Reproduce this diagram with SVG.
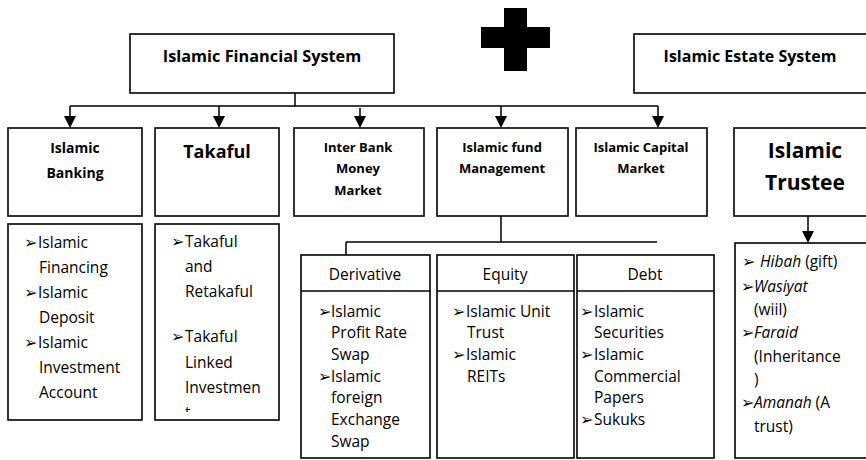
<svg xmlns="http://www.w3.org/2000/svg" width="866" height="460" viewBox="0 0 866 460">
<style>
.box{fill:#fff;stroke:#000;stroke-width:1.6}
.ln{fill:none;stroke:#000;stroke-width:1.5}
.t{font-family:"Open Sans","Liberation Sans",sans-serif;font-size:15.5px;fill:#000}
.h{font-family:"Open Sans","Liberation Sans",sans-serif;font-weight:bold;fill:#000;text-anchor:middle}
.c{text-anchor:middle}
.b{font-family:"DejaVu Sans",sans-serif;font-size:16px}
</style>
<defs>
<path id="ah" d="M-6,-12 L6,-12 L0,0 Z" fill="#000"/>
<clipPath id="tkclip"><rect x="155" y="224" width="124" height="188"/></clipPath>
</defs>

<g id="connectors">
<path class="ln" d="M295,93 V106 M70,106 H658 M501,216 V242 M346,242 H657 M346,242 V255"/>
<path class="ln" d="M70,106 V118 M219,106 V118 M360,108 V118 M501,106 V118 M658,106 V118 M808,216 V233"/>
<use href="#ah" x="70" y="128"/>
<use href="#ah" x="219" y="128"/>
<use href="#ah" x="360" y="128"/>
<use href="#ah" x="501" y="128"/>
<use href="#ah" x="658" y="128"/>
<use href="#ah" x="808" y="243"/>
</g>

<g id="plus">
<rect x="504" y="8" width="23" height="63" fill="#000"/>
<rect x="481" y="27" width="69" height="21" fill="#000"/>
</g>

<g id="financial-system">
<rect class="box" x="130" y="34" width="264" height="59"/>
<text class="h" x="262" y="62" font-size="16.3">Islamic Financial System</text>
</g>

<g id="estate-system">
<rect class="box" x="634" y="34" width="240" height="59"/>
<text class="h" x="750" y="62" font-size="16">Islamic Estate System</text>
</g>

<g id="islamic-banking">
<rect class="box" x="8" y="128" width="134" height="88"/>
<text class="h" x="75" y="153" font-size="14">Islamic</text>
<text class="h" x="75" y="178" font-size="14">Banking</text>
</g>

<g id="takaful">
<rect class="box" x="155" y="128" width="124" height="88"/>
<text class="h" x="217" y="158" font-size="18">Takaful</text>
</g>

<g id="inter-bank">
<rect class="box" x="294" y="128" width="130" height="88"/>
<text class="h" x="358" y="152" font-size="13">Inter Bank</text>
<text class="h" x="358" y="173" font-size="13">Money</text>
<text class="h" x="358" y="195" font-size="13">Market</text>
</g>

<g id="fund-management">
<rect class="box" x="437" y="128" width="131" height="88"/>
<text class="h" x="502" y="152" font-size="13">Islamic fund</text>
<text class="h" x="502" y="173" font-size="13">Management</text>
</g>

<g id="capital-market">
<rect class="box" x="576" y="128" width="131" height="88"/>
<text class="h" x="641" y="152" font-size="13">Islamic Capital</text>
<text class="h" x="641" y="173" font-size="13">Market</text>
</g>

<g id="islamic-trustee">
<rect class="box" x="734" y="128" width="140" height="88"/>
<text class="h" x="805" y="158" font-size="21">Islamic</text>
<text class="h" x="805" y="190" font-size="21">Trustee</text>
</g>

<g id="banking-list">
<rect class="box" x="8" y="224" width="134" height="196"/>
<text class="t b" x="24" y="248">➢</text><text class="t" x="38" y="248">Islamic</text>
<text class="t" x="39" y="273">Financing</text>
<text class="t b" x="24" y="298">➢</text><text class="t" x="38" y="298">Islamic</text>
<text class="t" x="39" y="323">Deposit</text>
<text class="t b" x="24" y="348">➢</text><text class="t" x="38" y="348">Islamic</text>
<text class="t" x="39" y="373">Investment</text>
<text class="t" x="39" y="398">Account</text>
</g>

<g id="takaful-list">
<rect class="box" x="155" y="224" width="124" height="196"/>
<text class="t b" x="171" y="247">➢</text><text class="t" x="185" y="247">Takaful</text>
<text class="t" x="185" y="272">and</text>
<text class="t" x="185" y="297">Retakaful</text>
<text class="t b" x="171" y="342">➢</text><text class="t" x="185" y="342">Takaful</text>
<text class="t" x="185" y="368">Linked</text>
<text class="t" x="185" y="393">Investmen</text>
<text class="t" x="185" y="418" clip-path="url(#tkclip)">t.</text>
</g>

<g id="derivative">
<rect class="box" x="301" y="255" width="129" height="203"/>
<line class="ln" x1="301" y1="291" x2="430" y2="291"/>
<text class="t c" x="365" y="280">Derivative</text>
<text class="t b" x="318" y="317">➢</text><text class="t" x="331" y="317">Islamic</text>
<text class="t" x="331" y="338">Profit Rate</text>
<text class="t" x="331" y="360">Swap</text>
<text class="t b" x="318" y="382">➢</text><text class="t" x="331" y="382">Islamic</text>
<text class="t" x="331" y="403">foreign</text>
<text class="t" x="331" y="425">Exchange</text>
<text class="t" x="331" y="447">Swap</text>
</g>

<g id="equity">
<rect class="box" x="437" y="255" width="137" height="203"/>
<line class="ln" x1="437" y1="291" x2="574" y2="291"/>
<text class="t c" x="505" y="280">Equity</text>
<text class="t b" x="452" y="317">➢</text><text class="t" x="466" y="317">Islamic Unit</text>
<text class="t" x="467" y="338">Trust</text>
<text class="t b" x="452" y="360">➢</text><text class="t" x="466" y="360">Islamic</text>
<text class="t" x="467" y="382">REITs</text>
</g>

<g id="debt">
<rect class="box" x="577" y="255" width="137" height="203"/>
<line class="ln" x1="577" y1="291" x2="714" y2="291"/>
<text class="t c" x="645" y="280">Debt</text>
<text class="t b" x="580" y="317">➢</text><text class="t" x="594" y="317">Islamic</text>
<text class="t" x="594" y="338">Securities</text>
<text class="t b" x="580" y="360">➢</text><text class="t" x="594" y="360">Islamic</text>
<text class="t" x="594" y="382">Commercial</text>
<text class="t" x="594" y="403">Papers</text>
<text class="t b" x="580" y="425">➢</text><text class="t" x="594" y="425">Sukuks</text>
</g>

<g id="trustee-list">
<rect class="box" x="735" y="243" width="140" height="215"/>
<text class="t b" x="742" y="267">➢</text><text class="t" x="760" y="267"><tspan font-style="italic">Hibah</tspan> (gift)</text>
<text class="t b" x="741" y="292">➢</text><text class="t" x="754" y="292" font-style="italic">Wasiyat</text>
<text class="t" x="754" y="315">(wiil)</text>
<text class="t b" x="741" y="338">➢</text><text class="t" x="754" y="338" font-style="italic">Faraid</text>
<text class="t" x="754" y="362">(Inheritance</text>
<text class="t" x="754" y="385">)</text>
<text class="t b" x="741" y="408">➢</text><text class="t" x="754" y="408"><tspan font-style="italic">Amanah</tspan> (A</text>
<text class="t" x="754" y="432">trust)</text>
</g>
</svg>
